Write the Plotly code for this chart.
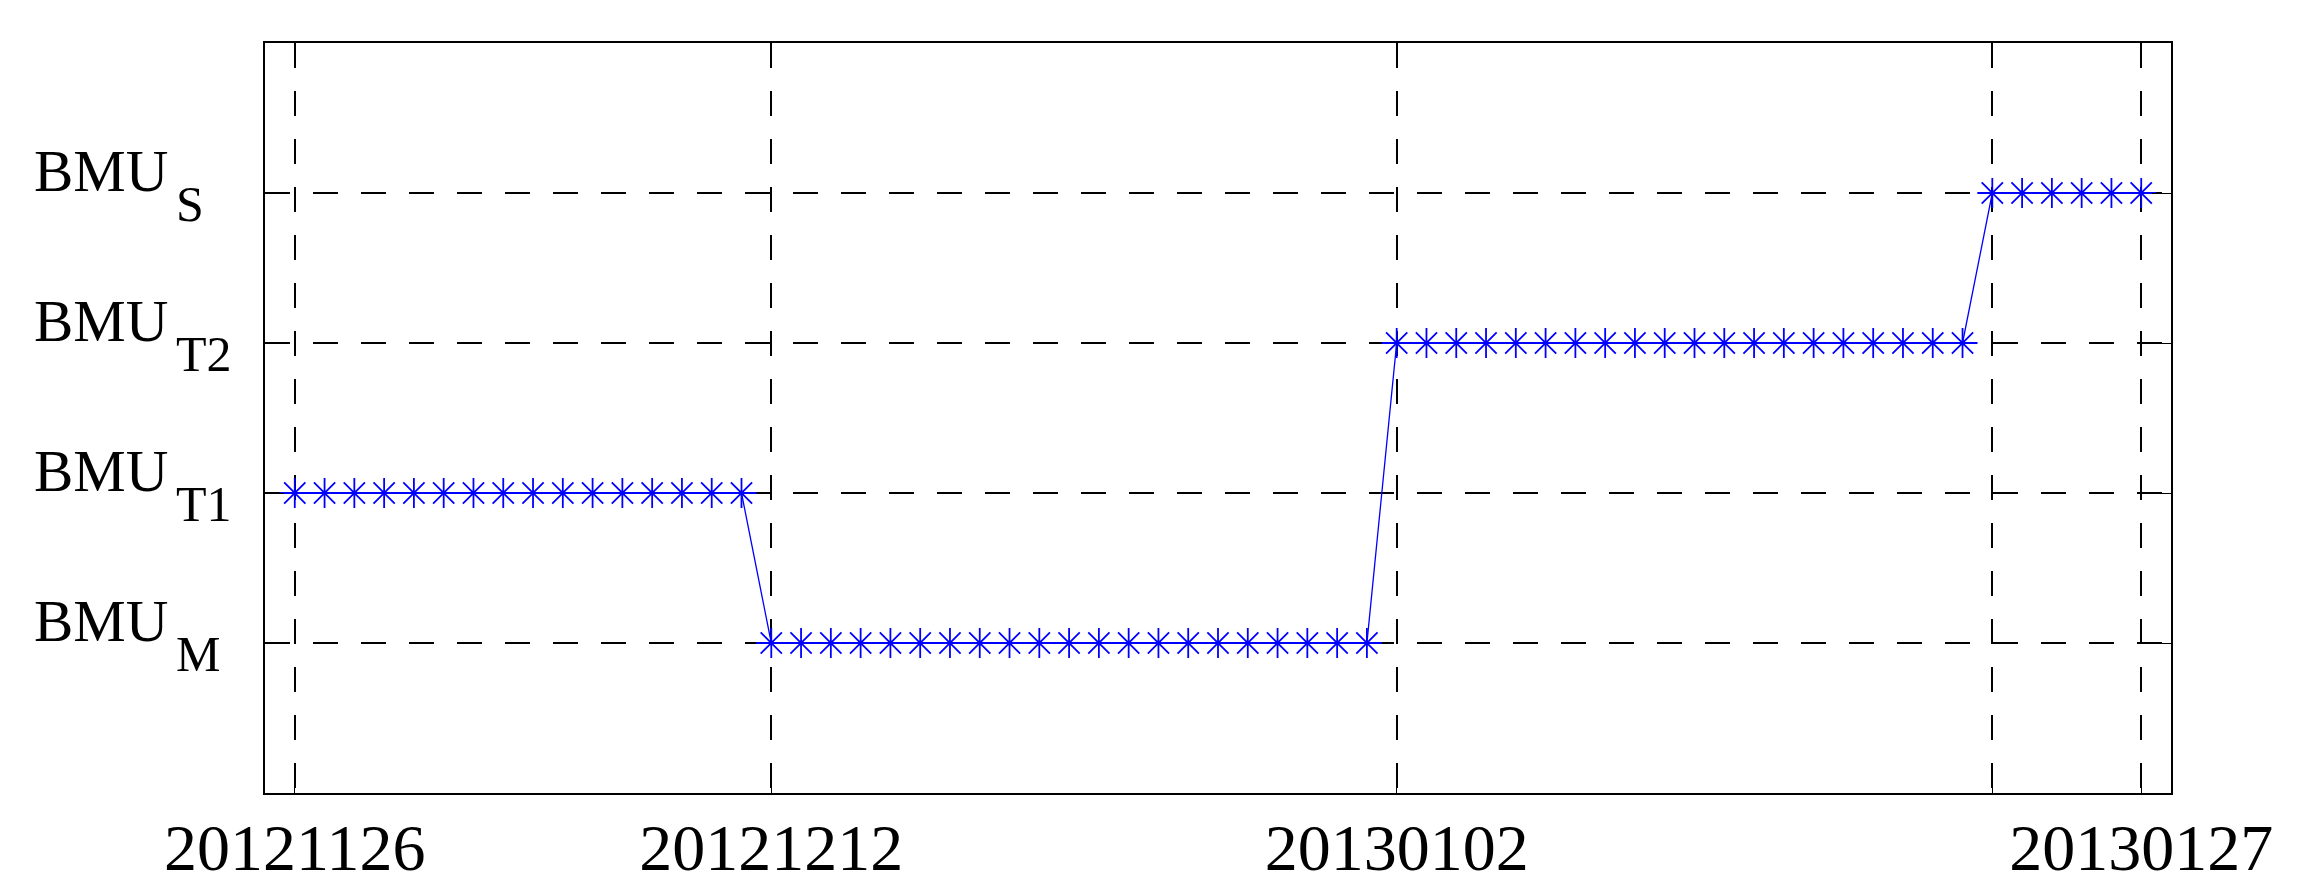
import pandas as pd
import plotly.graph_objects as go

# Daily observations from 2012-11-26 to 2013-01-27
start_date = "2012-11-26"
end_date = "2013-01-27"
dates = pd.date_range(start_date, end_date, freq="D")

# BMU state per day (1 = BMU_M, 2 = BMU_T1, 3 = BMU_T2, 4 = BMU_S)
bmu_level = [
    2, 2, 2, 2, 2, 2, 2, 2, 2, 2, 2, 2, 2, 2, 2, 2,
    1, 1, 1, 1, 1, 1, 1, 1, 1, 1, 1, 1, 1, 1, 1, 1, 1, 1, 1, 1, 1,
    3, 3, 3, 3, 3, 3, 3, 3, 3, 3, 3, 3, 3, 3, 3, 3, 3, 3, 3, 3,
    4, 4, 4, 4, 4, 4,
]

x_tick_dates = ["2012-11-26", "2012-12-12", "2013-01-02", "2013-01-22", "2013-01-27"]
x_tick_text = ["20121126", "20121212", "20130102", "", "20130127"]

y_tick_vals = [1, 2, 3, 4]
y_main_text = ["BMU", "BMU", "BMU", "BMU"]
y_sub_text = ["M", "T1", "T2", "S"]

FONT = "Liberation Serif, Times New Roman, serif"
W, H = 2297, 895
OFF = 8  # page body margin
L, T = 265 - OFF, 43 - OFF
PW, PH = 1906, 750
R = W - L - PW
B = H - T - PH

fig = go.Figure()
fig.add_trace(go.Scatter(
    x=dates, y=bmu_level, mode="lines+markers",
    line=dict(color="#0000FF", width=1.3),
    marker=dict(symbol="asterisk-open", size=25, color="#0000FF",
                line=dict(color="#0000FF", width=1.8)),
    showlegend=False,
))

annotations = []
for v, main, sub in zip(y_tick_vals, y_main_text, y_sub_text):
    annotations.append(dict(
        xref="paper", yref="y", x=0, y=v, xanchor="left", yanchor="middle",
        xshift=32 - 265, yshift=22, text=main, showarrow=False,
        font=dict(family=FONT, size=59, color="black"),
    ))
    annotations.append(dict(
        xref="paper", yref="y", x=0, y=v, xanchor="left", yanchor="middle",
        xshift=174 - 265, yshift=-11, text=sub, showarrow=False,
        font=dict(family=FONT, size=50, color="black"),
    ))

fig.update_layout(
    width=W, height=H, autosize=False,
    margin=dict(l=L, r=R, t=T, b=B, pad=0),
    paper_bgcolor="white", plot_bgcolor="white",
    font=dict(family=FONT, color="black"),
    annotations=annotations,
)
fig.update_xaxes(
    type="date",
    range=["2012-11-25", "2013-01-28"],
    tickmode="array", tickvals=x_tick_dates, ticktext=x_tick_text,
    tickfont=dict(family=FONT, size=66, color="black"),
    ticks="inside", ticklen=19, tickwidth=1.2, tickcolor="black",
    ticklabelstandoff=-4,
    showgrid=True, gridcolor="black", gridwidth=1.7, griddash="25px,23px",
    showline=True, linecolor="black", linewidth=2, mirror="ticks",
    zeroline=False,
)
fig.update_yaxes(
    range=[0, 5],
    tickmode="array", tickvals=y_tick_vals, showticklabels=False,
    ticks="inside", ticklen=19, tickwidth=1.2, tickcolor="black",
    showgrid=True, gridcolor="black", gridwidth=1.7, griddash="25px,23px",
    showline=True, linecolor="black", linewidth=2, mirror="ticks",
    zeroline=False,
)

fig.write_html("out.html")
